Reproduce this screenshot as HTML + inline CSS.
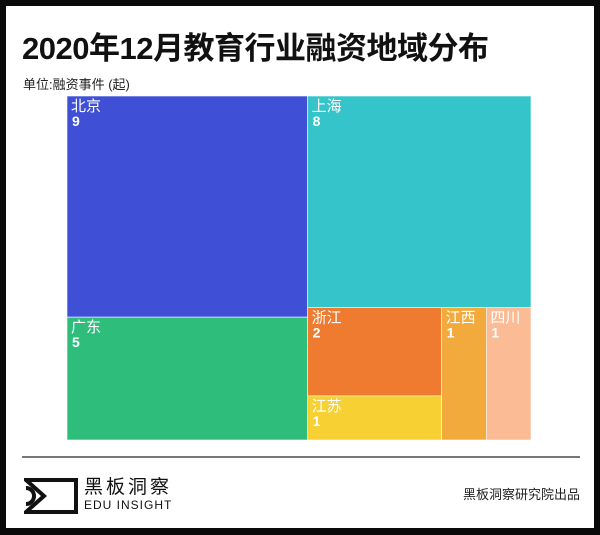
<!DOCTYPE html>
<html><head><meta charset="utf-8"><style>
body{margin:0;width:600px;height:535px;background:#0a0a0a;overflow:hidden;font-family:"Liberation Sans","Noto Sans CJK SC",sans-serif}
#panel{position:absolute;left:6px;top:6px;width:588px;height:522px;background:#fff}
#title{position:absolute;left:16px;top:17px;font-size:31px;font-weight:bold;color:#111;letter-spacing:-0.5px}
#unit{position:absolute;left:17px;top:68px;font-size:13px;color:#222}
#rule{position:absolute;left:16px;top:450px;width:558px;height:2px;background:#777}
#brand{position:absolute;left:78px;top:466px;font-size:19px;color:#111;letter-spacing:3px}
#brand2{position:absolute;left:78px;top:492px;font-size:12px;color:#111;letter-spacing:1px}
#credit{position:absolute;right:14px;top:478px;font-size:13px;color:#222}
</style></head><body>
<div id="panel">
<div id="title">2020年12月教育行业融资地域分布</div>
<div id="unit">单位:融资事件 (起)</div>
<div id="rule"></div>
<svg style="position:absolute;left:18px;top:472px" width="56" height="36">
<path d="M2 2 H52 V34 H2 L20 18 Z" fill="none" stroke="#111" stroke-width="4"/>
<path d="M2 10 A8 8 0 0 1 2 26" fill="none" stroke="#111" stroke-width="4"/>
</svg>
<div id="brand">黑板洞察</div>
<div id="brand2">EDU INSIGHT</div>
<div id="credit">黑板洞察研究院出品</div>
</div>
<svg id="tm" style="position:absolute;left:0;top:0" width="600" height="535"></svg>
<script>
const regions=["北京","广东","上海","浙江","江苏","江西","四川"];
const counts=[9,5,8,2,1,1,1];
const colors=["#3f4fd6","#2ebd7b","#34c4c9","#ee7b30","#f7d034","#f2aa3d","#fbbb95"];
const X0=67,Y0=96,W=464,H=344;
const svg=document.getElementById('tm');
const NS="http://www.w3.org/2000/svg";
function draw(i,x,y,w,h){
 const r=document.createElementNS(NS,'rect');
 r.setAttribute('x',x);r.setAttribute('y',y);r.setAttribute('width',w);r.setAttribute('height',h);
 r.setAttribute('fill',colors[i]);r.setAttribute('stroke','#fff');r.setAttribute('stroke-width','0.6');
 
 
 svg.appendChild(r);
 const t=document.createElementNS(NS,'text');
 t.setAttribute('x',x+4);t.setAttribute('y',y+15);t.setAttribute('fill','#fff');t.setAttribute('font-size','15');
 t.setAttribute('font-family','"Liberation Sans","Noto Sans CJK SC",sans-serif');
 t.textContent=regions[i];
 
 
 svg.appendChild(t);
 const v=document.createElementNS(NS,'text');
 v.setAttribute('x',x+5);v.setAttribute('y',y+30);v.setAttribute('fill','#fff');v.setAttribute('font-size','14');v.setAttribute('font-weight','bold');
 v.setAttribute('font-family','"Liberation Sans",sans-serif');
 v.textContent=counts[i];
 
 
 svg.appendChild(v);
}
const total=counts.reduce((a,b)=>a+b,0);
const leftSum=counts[0]+counts[1];
const lw=W*leftSum/total;
const bjH=H*counts[0]/leftSum;
draw(0,X0,Y0,lw,bjH);
draw(1,X0,Y0+bjH,lw,H-bjH);
const rx=X0+lw,rw=W-lw,rSum=total-leftSum;
const shH=H*counts[2]/rSum;
draw(2,rx,Y0,rw,shH);
const by=Y0+shH,bh=H-shH,bSum=rSum-counts[2];
const zjw=rw*(counts[3]+counts[4])/bSum;
const zjh=bh*counts[3]/(counts[3]+counts[4]);
draw(3,rx,by,zjw,zjh);
draw(4,rx,by+zjh,zjw,bh-zjh);
const restW=rw-zjw,jxw=restW*counts[5]/(counts[5]+counts[6]);
draw(5,rx+zjw,by,jxw,bh);
draw(6,rx+zjw+jxw,by,restW-jxw,bh);
</script>
</body></html>
